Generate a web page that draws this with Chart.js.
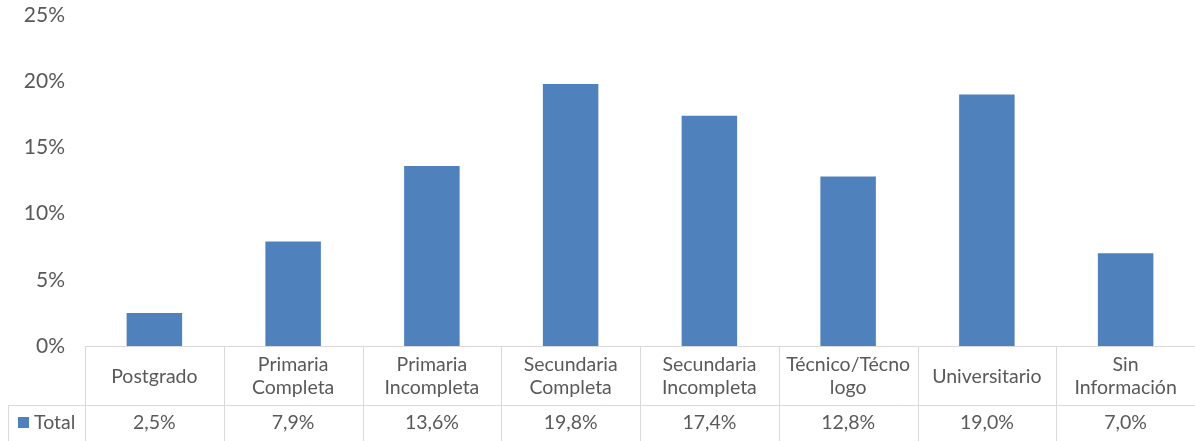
<!DOCTYPE html>
<html>
<head>
<meta charset="utf-8">
<script src="https://cdn.jsdelivr.net/npm/chart.js@4/dist/chart.umd.min.js"></script>
<style>
html,body{margin:0;padding:0;background:#fff;}
#wrap{width:1195px;height:441px;position:relative;}
</style>
</head>
<body>
<div id="wrap"><canvas id="c"></canvas></div>
<script>
const categories = [
  ["Postgrado"],
  ["Primaria", "Completa"],
  ["Primaria", "Incompleta"],
  ["Secundaria", "Completa"],
  ["Secundaria", "Incompleta"],
  ["Técnico/Técno", "logo"],
  ["Universitario"],
  ["Sin", "Información"]
];
const totalValues = [2.5, 7.9, 13.6, 19.8, 17.4, 12.8, 19.0, 7.0];
const seriesName = "Total";
const yTicks = [0, 5, 10, 15, 20, 25];

const FONT = "Lato, 'Open Sans', sans-serif";
const TEXT = "#595959";
const LINE = "#d9d9d9";
const BAR = "#4F81BD";

function fmt(v){ return v.toFixed(1).replace(".", ",") + "%"; }

const tablePlugin = {
  id: "dataTable",
  afterDraw(chart){
    const ctx = chart.ctx;
    const xs = chart.scales.x;
    const area = chart.chartArea;
    const n = categories.length;
    const step = (area.right - area.left) / n;
    const top = area.bottom;
    const rowH = 59;
    const mid = top + rowH;
    const bottom = chart.height + 2;
    const leftCol = 8;
    ctx.save();
    ctx.strokeStyle = LINE;
    ctx.lineWidth = 1;
    ctx.beginPath();
    ctx.moveTo(area.left, top + 0.5); ctx.lineTo(area.right, top + 0.5);
    ctx.moveTo(leftCol, mid + 0.5); ctx.lineTo(area.right, mid + 0.5);
    ctx.moveTo(leftCol + 0.5, mid); ctx.lineTo(leftCol + 0.5, bottom);
    for (let i = 0; i <= n; i++){
      const xp = Math.round(xs.getPixelForValue(i) - step / 2) + 0.5;
      ctx.moveTo(xp, top); ctx.lineTo(xp, bottom);
    }
    ctx.stroke();

    ctx.fillStyle = TEXT;
    ctx.font = "19.5px " + FONT;
    ctx.textAlign = "center";
    ctx.textBaseline = "middle";
    const lh = 23;
    categories.forEach((lines, i) => {
      const cx = xs.getPixelForValue(i);
      const cy = top + rowH / 2 + 1;
      const start = cy - (lines.length - 1) * lh / 2;
      lines.forEach((t, j) => ctx.fillText(t, cx, start + j * lh));
      ctx.fillText(fmt(totalValues[i]), cx, mid + 18);
    });
    ctx.fillStyle = BAR;
    ctx.fillRect(18, mid + 12, 11, 11);
    ctx.fillStyle = TEXT;
    ctx.textAlign = "left";
    ctx.fillText(seriesName, 34, mid + 18);
    ctx.restore();
  }
};

new Chart(document.getElementById("c"), {
  type: "bar",
  data: {
    labels: categories,
    datasets: [{
      label: seriesName,
      data: totalValues,
      backgroundColor: BAR,
      borderWidth: 0,
      barPercentage: 0.4,
      categoryPercentage: 1.0
    }]
  },
  options: {
    responsive: true,
    maintainAspectRatio: false,
    animation: false,
    layout: { padding: { top: 0, bottom: 95, left: 0, right: 0 } },
    plugins: { legend: { display: false }, tooltip: { enabled: false } },
    scales: {
      x: { display: false },
      y: {
        min: 0, max: 25,
        afterFit(scale){ scale.width = 85; },
        afterBuildTicks(scale){ scale.ticks = yTicks.map(v => ({ value: v })); },
        grid: { display: false },
        border: { display: false },
        ticks: {
          padding: 12,
          color: TEXT,
          font: { family: FONT, size: 21, lineHeight: 0.3 },
          callback: v => v + "%"
        }
      }
    }
  },
  plugins: [tablePlugin]
});
</script>
</body>
</html>
